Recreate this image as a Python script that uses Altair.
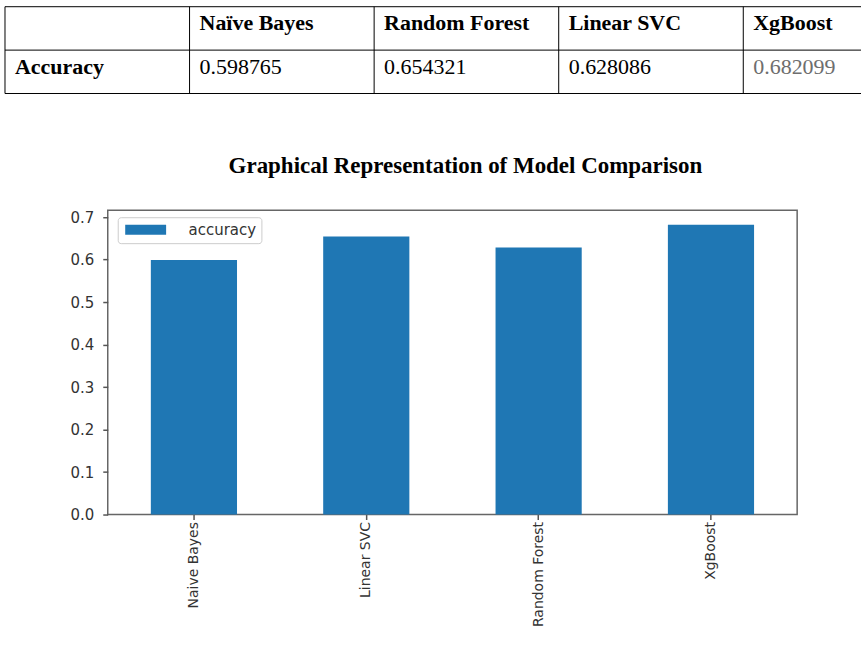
import altair as alt
import pandas as pd

# ---------------- data ----------------
# Table at the top of the figure
table_header = ["", "Naïve Bayes", "Random Forest", "Linear SVC", "XgBoost"]
table_row_label = "Accuracy"
table_values = ["0.598765", "0.654321", "0.628086", "0.682099"]

# Bar chart
chart_title = "Graphical Representation of Model Comparison"
chart_models = ["Naive Bayes", "Linear SVC", "Random Forest", "XgBoost"]
chart_accuracy = [0.598765, 0.654321, 0.628086, 0.682099]
series_name = "accuracy"
y_tick_values = [0.0, 0.1, 0.2, 0.3, 0.4, 0.5, 0.6, 0.7]

# ---------------- layout constants ----------------
PLOT_W = 691           # bar-chart plot width
PLOT_H = 305           # bar-chart plot height
TABLE_H = 87
COL_W = 185            # table column width in px
TABLE_LEFT = 103       # table starts this many px left of the plot's left edge
TABLE_W = 858          # full table width in px

n_cols = len(table_header)
n_rows = 2
col_shift = TABLE_LEFT / COL_W
table_end = TABLE_W / COL_W

cells = []
for c, h in enumerate(table_header):
    cells.append({"col": c, "row": 0, "text": h, "weight": "bold", "tone": "main"})
cells.append({"col": 0, "row": 1, "text": table_row_label, "weight": "bold", "tone": "main"})
for i, v in enumerate(table_values):
    cells.append({"col": i + 1, "row": 1, "text": v, "weight": "normal",
                  "tone": "faded" if i == len(table_values) - 1 else "main"})
cells_df = pd.DataFrame(cells)
cells_df["ymid"] = cells_df["row"] + 0.5

hlines = pd.DataFrame({"row": list(range(n_rows + 1)), "x0": 0.0, "x1": table_end})
vlines = pd.DataFrame({"col": list(range(n_cols)), "y0": 0, "y1": n_rows})

# table x scale: column index -> px, with column 0 lying left of the plot origin
xs = alt.Scale(domain=[col_shift, col_shift + PLOT_W / COL_W], nice=False, zero=False)
ys = alt.Scale(domain=[0, n_rows], nice=False, zero=False, reverse=True)

h_rules = alt.Chart(hlines).mark_rule(color="black", strokeWidth=1).encode(
    x=alt.X("x0:Q", scale=xs, axis=None),
    x2="x1:Q",
    y=alt.Y("row:Q", scale=ys, axis=None),
)
v_rules = alt.Chart(vlines).mark_rule(color="black", strokeWidth=1).encode(
    x=alt.X("col:Q", scale=xs, axis=None),
    y=alt.Y("y0:Q", scale=ys, axis=None),
    y2="y1:Q",
)

def cell_text(weight):
    return alt.Chart(cells_df).transform_filter(
        alt.datum.weight == weight
    ).mark_text(
        align="left", baseline="middle", dx=10, dy=-5,
        font="Liberation Serif", fontSize=22, fontWeight=weight,
    ).encode(
        x=alt.X("col:Q", scale=xs, axis=None),
        y=alt.Y("ymid:Q", scale=ys, axis=None),
        text="text:N",
        color=alt.condition(alt.datum.tone == "faded", alt.value("#6e6e6e"), alt.value("#000000")),
    )

table = alt.layer(h_rules, v_rules, cell_text("bold"), cell_text("normal")).properties(
    width=PLOT_W, height=TABLE_H, view=alt.ViewBackground(stroke="transparent")
)

# ---------------- bar chart panel ----------------
bar_df = pd.DataFrame({"model": chart_models, "accuracy": chart_accuracy, "series": series_name})

bars = alt.Chart(bar_df).mark_bar().encode(
    x=alt.X(
        "model:N", sort=chart_models, title=None,
        scale=alt.Scale(paddingInner=0.5, paddingOuter=0.25),
        axis=alt.Axis(labelAngle=270, labelAlign="right", labelBaseline="middle",
                      labelPadding=2, tickSize=5, domain=False, labelFontSize=14),
    ),
    y=alt.Y(
        "accuracy:Q", title=None,
        scale=alt.Scale(domain=[0, 0.716], nice=False, zero=True),
        axis=alt.Axis(values=y_tick_values, format=".1f", grid=False, domain=False,
                      tickSize=5, labelPadding=9, labelFontSize=15),
    ),
    color=alt.Color(
        "series:N", scale=alt.Scale(range=["#1f77b4"]),
        legend=alt.Legend(
            title=None, orient="none", legendX=10, legendY=7,
            symbolType="M-1,-1H7.2V1H-1Z", symbolSize=100, symbolStrokeWidth=0,
            labelFont="DejaVu Sans", labelFontSize=15, labelColor="#333333", labelOffset=51,
            padding=5, strokeColor="#cccccc", fillColor="white", cornerRadius=3,
        ),
    ),
).properties(
    width=PLOT_W, height=PLOT_H,
    title=alt.TitleParams(
        chart_title, font="Liberation Serif", fontSize=23, fontWeight="bold", color="black",
        anchor="middle", frame="group", dx=13, baseline="alphabetic", offset=14,
    ),
)

chart = alt.vconcat(table, bars, spacing=59).resolve_legend(
    color="independent"
).resolve_scale(
    color="independent"
).properties(
    padding={"left": 3, "top": 4, "right": 0, "bottom": 0},
    background="white",
).configure_view(
    stroke="#666666", strokeWidth=1.5,
).configure_axis(
    labelFont="DejaVu Sans", labelColor="#333333",
    tickColor="#555555", tickWidth=1.5,
)

chart.save("out.html", embed_options={"renderer": "svg", "actions": False})
